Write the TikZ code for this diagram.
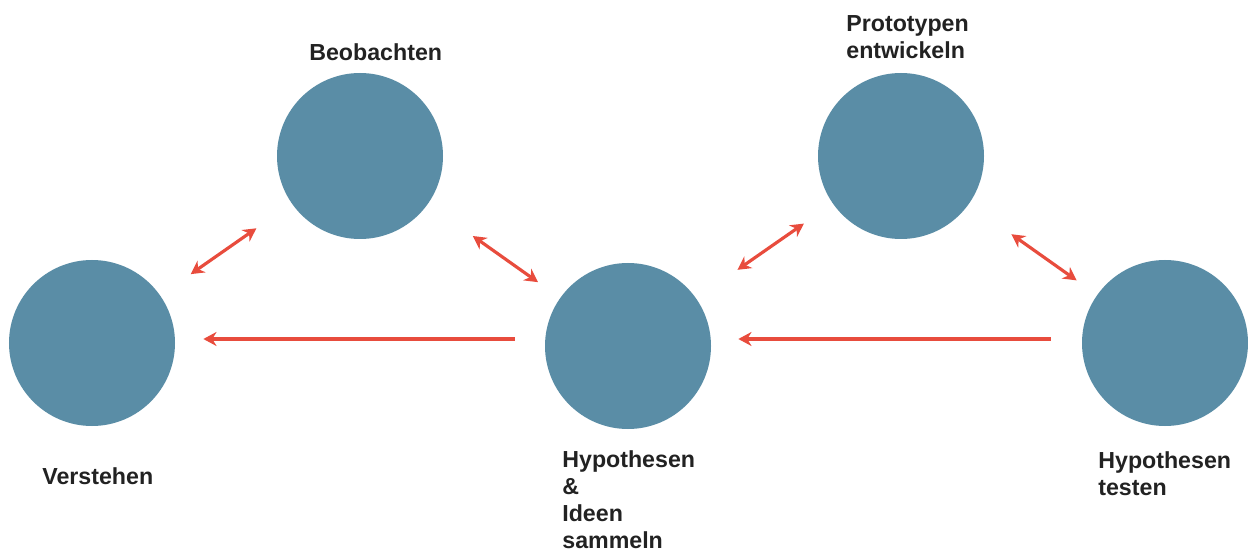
\documentclass[tikz,border=0pt]{standalone}
\usepackage{fontspec}
\setmainfont{Liberation Sans}
\usepackage{tikz}
\usetikzlibrary{arrows.meta}
\usetikzlibrary{positioning}
\definecolor{phase}{HTML}{5A8DA6}
\definecolor{pfeil}{HTML}{E84C3D}
\definecolor{schrift}{HTML}{222222}
\tikzset{phase/.style = {circle, fill=phase, minimum size=3.32cm, inner sep=0pt},
         titel/.style = {anchor=north west, inner sep=0pt, align=left, text=schrift,
                         font=\fontsize{13.2}{15.4}\selectfont\bfseries},
         wechsel/.style = {draw=pfeil, line width=1.8pt, {Stealth[length=7.5pt,width=8pt]}-{Stealth[length=7.5pt,width=8pt]}},
         zurueck/.style = {draw=pfeil, line width=1.8pt, -{Stealth[length=7.5pt,width=8pt]}}}

\begin{document}
\begin{tikzpicture}
      \useasboundingbox (0, 0) rectangle (24.96, 11.02);

      \node [phase] (verstehen) at (1.84, 4.16) {};
      \node [phase] (beobachten) at (7.2, 7.9) {};
      \node [phase] (ideen) at (12.56, 4.1) {};
      \node [phase] (prototyp) at (18.02, 7.9) {};
      \node [phase] (testen) at (23.3, 4.16) {};

      \node [titel] (l-verstehen) at (0.84, 1.68) {Verstehen};
      \node [titel] (l-beobachten) at (6.18, 10.16) {Beobachten};
      \node [titel] (l-ideen) at (11.24, 2.02) {Hypothesen\\\&\\Ideen\\sammeln};
      \node [titel] (l-prototyp) at (16.92, 10.72) {Prototypen\\entwickeln};
      \node [titel] (l-testen) at (21.96, 2.0) {Hypothesen\\testen};

      \draw [wechsel, shorten <=0.74cm, shorten >=0.86cm] (verstehen) -- (beobachten);
      \draw [wechsel, shorten <=1.1cm, shorten >=0.54cm] (beobachten) -- (ideen);
      \draw [wechsel, shorten <=1.0cm, shorten >=0.7cm] (ideen) -- (prototyp);
      \draw [wechsel, shorten <=1.04cm, shorten >=0.5cm] (prototyp) -- (testen);

      \draw [zurueck, shorten <=0.6cm, shorten >=0.56cm] ([yshift=0.14cm]ideen.west) -- ([yshift=0.14cm]ideen.west -| verstehen.east);
      \draw [zurueck, shorten <=0.62cm, shorten >=0.54cm] ([yshift=0.08cm]testen.west) -- ([yshift=0.08cm]testen.west -| ideen.east);
    \end{tikzpicture}
\end{document}
